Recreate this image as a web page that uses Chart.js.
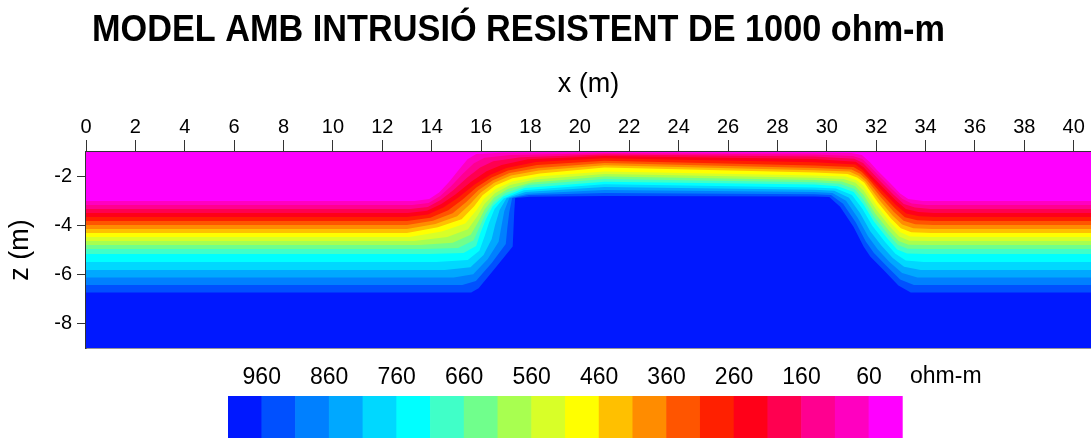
<!DOCTYPE html>
<html>
<head>
<meta charset="utf-8">
<script src="https://cdn.jsdelivr.net/npm/chart.js@4.4.1/dist/chart.umd.min.js"></script>
<style>
  html, body { margin: 0; padding: 0; background: #fff; overflow: hidden; }
  #wrap { position: relative; width: 1091px; height: 438px; }
  #main { position: absolute; left: 0; top: 0; }
  #bar { position: absolute; left: 200px; top: 355px; }
</style>
</head>
<body>
<div id="wrap">
  <canvas id="main" width="1091" height="438"></canvas>
  <canvas id="bar" width="800" height="83"></canvas>
</div>
<script>
// ---- text ----
const chartTitle = 'MODEL AMB INTRUSIÓ RESISTENT DE 1000 ohm-m';
const xTitle = 'x (m)';
const zTitle = 'z (m)';
const unitLabel = 'ohm-m';

// ---- axis ticks ----
const xTicks = [0, 2, 4, 6, 8, 10, 12, 14, 16, 18, 20, 22, 24, 26, 28, 30, 32, 34, 36, 38, 40];
const zTicks = [-2, -4, -6, -8];
const barTicks = [960, 860, 760, 660, 560, 460, 360, 260, 160, 60];

// ---- resistivity classes (ohm-m), top band (lowest) to bottom band (highest) ----
const bandLow  = [10, 60, 110, 160, 210, 260, 310, 360, 410, 460, 510, 560, 610, 660, 710, 760, 810, 860, 910, 960];
const bandHigh = [60, 110, 160, 210, 260, 310, 360, 410, 460, 510, 560, 610, 660, 710, 760, 810, 860, 910, 960, 1010];
const bandColors = ['#ff00ff', '#ff00c0', '#ff0090', '#ff0050', '#ff0018', '#ff2000', '#ff5500', '#ff8c00',
                    '#ffc000', '#ffff00', '#d8ff28', '#a8ff50', '#70ff8c', '#40ffc8', '#00ffff', '#00d8ff',
                    '#00a8ff', '#0080ff', '#0050ff', '#0018ff'];

// ---- section top (z = -1 m) ----
const topEdge = [[0, -1], [41, -1]];

// ---- iso-resistivity lines [x (m), z (m)] ----
const iso60  = [[0,-3.00],[13.3,-3.00],[13.9,-2.92],[14.3,-2.65],[14.7,-2.22],[15.1,-1.72],[15.45,-1.30],[15.8,-1.08],[16.8,-1.03],[21,-1.02],[29.5,-1.03],[31.0,-1.04],[31.42,-1.12],[31.75,-1.42],[32.03,-1.73],[32.57,-2.28],[32.97,-2.69],[33.3,-2.92],[33.9,-3.00],[41,-3.00]];
const iso110 = [[0,-3.16],[13.21,-3.16],[13.87,-3.08],[14.33,-2.81],[14.79,-2.39],[15.27,-1.88],[15.71,-1.46],[16.14,-1.23],[17.2,-1.12],[21,-1.05],[29.5,-1.10],[31.06,-1.16],[31.44,-1.29],[31.75,-1.59],[32.11,-1.97],[32.65,-2.52],[33.05,-2.91],[33.44,-3.10],[34.04,-3.16],[41,-3.16]];
const iso160 = [[0,-3.33],[13.13,-3.33],[13.84,-3.24],[14.36,-2.96],[14.87,-2.56],[15.44,-2.04],[15.96,-1.63],[16.49,-1.38],[17.6,-1.21],[21,-1.10],[29.5,-1.18],[31.11,-1.28],[31.47,-1.45],[31.76,-1.75],[32.18,-2.20],[32.72,-2.75],[33.12,-3.12],[33.57,-3.27],[34.19,-3.33],[41,-3.33]];
const iso210 = [[0,-3.49],[13.04,-3.49],[13.81,-3.40],[14.39,-3.12],[14.96,-2.73],[15.61,-2.20],[16.22,-1.79],[16.83,-1.53],[17.9,-1.30],[21,-1.16],[29.5,-1.29],[31.17,-1.40],[31.49,-1.62],[31.76,-1.92],[32.26,-2.43],[32.80,-2.98],[33.20,-3.33],[33.71,-3.45],[34.33,-3.49],[41,-3.49]];
const iso260 = [[0,-3.65],[13.0,-3.65],[13.85,-3.55],[14.49,-3.26],[15.08,-2.86],[15.74,-2.33],[16.38,-1.93],[17.03,-1.65],[18.22,-1.41],[21,-1.26],[29.5,-1.42],[31.16,-1.51],[31.47,-1.74],[31.73,-2.03],[32.27,-2.61],[32.81,-3.17],[33.21,-3.51],[33.74,-3.62],[34.38,-3.65],[41,-3.65]];
const iso310 = [[0,-3.82],[13.0,-3.82],[13.95,-3.68],[14.67,-3.38],[15.24,-2.95],[15.82,-2.44],[16.43,-2.04],[17.09,-1.76],[18.26,-1.53],[21,-1.36],[29.5,-1.55],[31.08,-1.61],[31.41,-1.81],[31.68,-2.08],[32.22,-2.72],[32.76,-3.30],[33.16,-3.66],[33.66,-3.79],[34.34,-3.82],[41,-3.82]];
const iso360 = [[0,-3.98],[13.0,-3.98],[14.05,-3.81],[14.85,-3.50],[15.40,-3.04],[15.90,-2.55],[16.48,-2.15],[17.15,-1.86],[18.30,-1.65],[21,-1.45],[29.5,-1.65],[31.0,-1.71],[31.35,-1.89],[31.63,-2.14],[32.17,-2.83],[32.71,-3.44],[33.11,-3.81],[33.58,-3.95],[34.3,-3.98],[41,-3.98]];
const iso410 = [[0,-4.14],[13.0,-4.14],[14.15,-3.94],[15.03,-3.62],[15.56,-3.12],[15.98,-2.66],[16.53,-2.26],[17.21,-1.96],[18.34,-1.76],[21,-1.54],[29.5,-1.74],[30.92,-1.80],[31.29,-1.97],[31.57,-2.20],[32.11,-2.94],[32.65,-3.58],[33.05,-3.96],[33.50,-4.11],[34.26,-4.14],[41,-4.14]];
const iso460 = [[0,-4.31],[13.0,-4.31],[14.25,-4.07],[15.21,-3.74],[15.72,-3.21],[16.06,-2.77],[16.58,-2.37],[17.27,-2.07],[18.38,-1.88],[21,-1.63],[29.5,-1.84],[30.84,-1.90],[31.23,-2.04],[31.52,-2.25],[32.06,-3.05],[32.60,-3.71],[33.00,-4.11],[33.42,-4.28],[34.22,-4.31],[41,-4.31]];
const iso510 = [[0,-4.47],[13.1,-4.47],[14.41,-4.24],[15.36,-3.92],[15.82,-3.37],[16.11,-2.92],[16.59,-2.51],[17.26,-2.20],[18.33,-2.00],[21,-1.80],[29.5,-1.96],[30.76,-2.00],[31.19,-2.14],[31.49,-2.38],[32.02,-3.18],[32.56,-3.86],[32.96,-4.27],[33.37,-4.45],[34.18,-4.47],[41,-4.47]];
const iso560 = [[0,-4.63],[13.3,-4.63],[14.63,-4.47],[15.47,-4.15],[15.86,-3.60],[16.13,-3.13],[16.56,-2.68],[17.17,-2.35],[18.19,-2.12],[21,-1.90],[29.5,-2.05],[30.68,-2.10],[31.16,-2.26],[31.49,-2.57],[31.99,-3.34],[32.53,-4.02],[32.93,-4.45],[33.34,-4.62],[34.14,-4.63],[41,-4.63]];
const iso610 = [[0,-4.80],[13.5,-4.80],[14.85,-4.70],[15.58,-4.38],[15.90,-3.83],[16.15,-3.34],[16.53,-2.86],[17.08,-2.51],[18.05,-2.24],[21,-2.00],[29.5,-2.14],[30.60,-2.20],[31.14,-2.39],[31.49,-2.76],[31.96,-3.51],[32.50,-4.19],[32.91,-4.63],[33.31,-4.79],[34.10,-4.80],[41,-4.80]];
const iso660 = [[0,-4.96],[13.7,-4.96],[15.07,-4.92],[15.69,-4.61],[15.94,-4.06],[16.17,-3.54],[16.50,-3.04],[16.99,-2.67],[17.91,-2.35],[21,-2.10],[29.5,-2.23],[30.52,-2.30],[31.12,-2.51],[31.49,-2.95],[31.93,-3.67],[32.47,-4.35],[32.88,-4.80],[33.28,-4.95],[34.06,-4.96],[41,-4.96]];
const iso710 = [[0,-5.16],[13.9,-5.16],[15.29,-5.12],[15.80,-4.84],[15.98,-4.29],[16.19,-3.75],[16.47,-3.21],[16.90,-2.82],[17.77,-2.47],[21,-2.21],[29.5,-2.33],[30.44,-2.40],[31.09,-2.63],[31.49,-3.14],[31.90,-3.83],[32.44,-4.51],[32.85,-4.98],[33.25,-5.14],[34.02,-5.16],[41,-5.16]];
const iso760 = [[0,-5.49],[14.18,-5.49],[15.46,-5.41],[15.93,-5.03],[16.14,-4.45],[16.32,-3.89],[16.55,-3.32],[16.91,-2.90],[17.73,-2.56],[21,-2.32],[29.5,-2.45],[30.37,-2.49],[31.02,-2.75],[31.44,-3.32],[31.85,-4.02],[32.36,-4.67],[32.78,-5.15],[33.20,-5.43],[33.93,-5.49],[41,-5.49]];
const iso810 = [[0,-5.82],[14.53,-5.82],[15.57,-5.70],[16.10,-5.20],[16.43,-4.55],[16.57,-3.97],[16.75,-3.37],[17.03,-2.89],[17.80,-2.63],[21,-2.43],[29.5,-2.54],[30.30,-2.58],[30.90,-2.87],[31.35,-3.50],[31.76,-4.23],[32.21,-4.82],[32.66,-5.32],[33.13,-5.68],[33.80,-5.82],[41,-5.82]];
const iso860 = [[0,-6.12],[14.89,-6.12],[15.68,-5.99],[16.27,-5.37],[16.71,-4.66],[16.82,-4.05],[16.94,-3.41],[17.14,-2.89],[17.87,-2.70],[21,-2.55],[29.5,-2.63],[30.23,-2.67],[30.78,-2.99],[31.26,-3.69],[31.67,-4.44],[32.06,-4.97],[32.54,-5.49],[33.05,-5.94],[33.67,-6.12],[41,-6.12]];
const iso910 = [[0,-6.43],[15.24,-6.43],[15.79,-6.27],[16.43,-5.53],[17.00,-4.76],[17.06,-4.12],[17.14,-3.46],[17.26,-2.88],[17.93,-2.76],[21,-2.67],[29.5,-2.72],[30.17,-2.75],[30.66,-3.11],[31.17,-3.87],[31.58,-4.65],[31.91,-5.12],[32.42,-5.65],[32.97,-6.20],[33.53,-6.43],[41,-6.43]];
const iso960 = [[0,-6.73],[15.6,-6.73],[15.9,-6.56],[16.6,-5.70],[17.28,-4.86],[17.31,-4.20],[17.34,-3.50],[17.38,-2.88],[18.0,-2.83],[21,-2.80],[29.5,-2.82],[30.1,-2.84],[30.54,-3.23],[31.08,-4.05],[31.49,-4.86],[31.76,-5.27],[32.3,-5.82],[32.9,-6.45],[33.4,-6.73],[41,-6.73]];

// each line bounds the next band below it
const isolines = [iso60, iso110, iso160, iso210, iso260, iso310, iso360, iso410, iso460, iso510,
                  iso560, iso610, iso660, iso710, iso760, iso810, iso860, iso910, iso960];

const FONT = "'Liberation Sans', Arial, sans-serif";
const AXIS_COLOR = '#333';

const toPoints = line => line.map(([x, z]) => ({ x: x, y: z }));

// every outline is filled down to the base of the section; upper bands are painted first
const sectionSets = [topEdge].concat(isolines).map((line, i) => ({
  data: toPoints(line),
  backgroundColor: bandColors[i],
  borderColor: 'rgba(0,0,0,0)',
  borderWidth: 0,
  pointRadius: 0,
  pointHoverRadius: 0,
  tension: 0,
  fill: 'start',
  order: 100 - i
}));

const titlePlugin = {
  id: 'sheetTitle',
  afterDraw(chart, args, opts) {
    const ctx = chart.ctx;
    ctx.save();
    ctx.font = 'bold ' + opts.size + 'px ' + opts.family;
    const w = ctx.measureText(opts.text).width;
    ctx.translate(opts.x, opts.y);
    ctx.scale(opts.width / w, 1);
    ctx.fillStyle = '#000';
    ctx.textAlign = 'left';
    ctx.textBaseline = 'alphabetic';
    ctx.fillText(opts.text, 0, 0);
    ctx.restore();
  }
};

new Chart(document.getElementById('main'), {
  type: 'line',
  data: { datasets: sectionSets },
  plugins: [titlePlugin],
  options: {
    responsive: false,
    animation: false,
    devicePixelRatio: 1,
    events: [],
    layout: { padding: { top: 52, bottom: 90, left: 0, right: 0 } },
    plugins: {
      legend: { display: false },
      tooltip: { enabled: false },
      sheetTitle: { text: chartTitle, x: 92, y: 41, width: 853, size: 37, family: FONT }
    },
    scales: {
      x: {
        type: 'linear', position: 'top', min: 0, max: 40.7,
        afterBuildTicks: ax => { ax.ticks = xTicks.map(v => ({ value: v })); },
        afterFit: ax => { ax.height = 100; },
        grid: { drawOnChartArea: false, drawTicks: true, tickLength: 12, color: AXIS_COLOR, lineWidth: 1 },
        border: { display: true, color: AXIS_COLOR, width: 1.5 },
        ticks: { font: { family: FONT, size: 20 }, color: '#000', padding: 1, maxRotation: 0, autoSkip: false },
        title: { display: true, text: xTitle, color: '#000', font: { family: FONT, size: 27 }, padding: { top: 16, bottom: 0 } }
      },
      xBase: {
        type: 'linear', position: 'bottom', min: 0, max: 40.7,
        afterFit: ax => { ax.height = 0; },
        grid: { display: false, drawTicks: false },
        ticks: { display: false },
        border: { display: true, color: AXIS_COLOR, width: 1.5 }
      },
      y: {
        type: 'linear', position: 'left', min: -9, max: -1,
        afterBuildTicks: ax => { ax.ticks = zTicks.map(v => ({ value: v })); },
        afterFit: ax => { ax.width = 86; },
        grid: { drawOnChartArea: false, drawTicks: true, tickLength: 9, color: AXIS_COLOR, lineWidth: 1 },
        border: { display: true, color: AXIS_COLOR, width: 1.5 },
        ticks: { font: { family: FONT, size: 20 }, color: '#000', padding: 5 },
        title: { display: true, text: zTitle, color: '#000', font: { family: FONT, size: 27 }, padding: { top: 4, bottom: 0 } }
      }
    }
  }
});

// ---- colour scale ----
const unitPlugin = {
  id: 'unitLabel',
  afterDraw(chart, args, opts) {
    const ctx = chart.ctx;
    ctx.save();
    ctx.font = opts.size + 'px ' + opts.family;
    ctx.fillStyle = '#000';
    ctx.textAlign = 'left';
    ctx.textBaseline = 'alphabetic';
    ctx.fillText(opts.text, opts.x, opts.y);
    ctx.restore();
  }
};

new Chart(document.getElementById('bar'), {
  type: 'bar',
  data: {
    labels: ['rho'],
    datasets: bandColors.map((c, i) => ({
      data: [[bandLow[i], bandHigh[i]]],
      backgroundColor: c,
      borderWidth: 0,
      barPercentage: 1,
      categoryPercentage: 1,
      grouped: false
    }))
  },
  plugins: [unitPlugin],
  options: {
    indexAxis: 'y',
    responsive: false,
    animation: false,
    devicePixelRatio: 1,
    events: [],
    layout: { padding: { top: 0, bottom: 0, left: 28, right: 97.3 } },
    plugins: {
      legend: { display: false },
      tooltip: { enabled: false },
      unitLabel: { text: unitLabel, x: 710, y: 27.5, size: 23, family: FONT }
    },
    scales: {
      x: {
        type: 'linear', position: 'top', min: 10, max: 1010, reverse: true,
        afterBuildTicks: ax => { ax.ticks = barTicks.map(v => ({ value: v })); },
        afterFit: ax => { ax.height = 41; },
        grid: { display: false, drawTicks: false },
        border: { display: false },
        ticks: { font: { family: FONT, size: 23 }, color: '#000', padding: 4.5, maxRotation: 0, autoSkip: false }
      },
      y: { display: false }
    }
  }
});
</script>
</body>
</html>
